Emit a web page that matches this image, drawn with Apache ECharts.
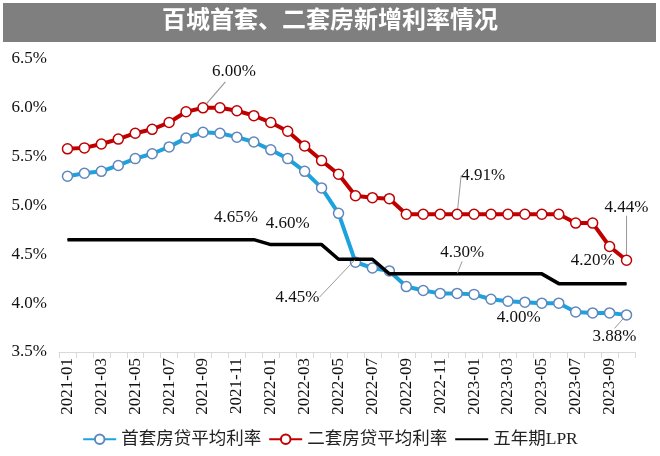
<!DOCTYPE html>
<html>
<head>
<meta charset="utf-8">
<script src="https://cdn.jsdelivr.net/npm/echarts@6/dist/echarts.min.js"></script>
<style>html,body{margin:0;padding:0;background:#fff}#c{width:660px;height:456px}</style>
</head>
<body>
<div id="c"></div>
<script>
const titleText = '百城首套、二套房新增利率情况';
const months = ['2021-01','2021-02','2021-03','2021-04','2021-05','2021-06','2021-07','2021-08','2021-09','2021-10','2021-11','2021-12',
  '2022-01','2022-02','2022-03','2022-04','2022-05','2022-06','2022-07','2022-08','2022-09','2022-10','2022-11','2022-12',
  '2023-01','2023-02','2023-03','2023-04','2023-05','2023-06','2023-07','2023-08','2023-09','2023-10'];
const seriesNames = ['首套房贷平均利率','二套房贷平均利率','五年期LPR'];
const firstHome = [5.30,5.33,5.35,5.41,5.48,5.53,5.60,5.69,5.75,5.74,5.70,5.65,
  5.57,5.48,5.35,5.18,4.92,4.42,4.36,4.33,4.17,4.13,4.10,4.10,
  4.09,4.04,4.02,4.01,4.00,4.00,3.91,3.90,3.90,3.88];
const secondHome = [5.58,5.59,5.63,5.68,5.74,5.78,5.85,5.96,6.00,6.00,5.97,5.92,
  5.85,5.76,5.61,5.46,5.32,5.10,5.08,5.07,4.91,4.91,4.91,4.91,
  4.91,4.91,4.91,4.91,4.91,4.91,4.82,4.82,4.58,4.44];
const lpr5y = [4.65,4.65,4.65,4.65,4.65,4.65,4.65,4.65,4.65,4.65,4.65,4.65,
  4.60,4.60,4.60,4.60,4.45,4.45,4.45,4.30,4.30,4.30,4.30,4.30,
  4.30,4.30,4.30,4.30,4.30,4.20,4.20,4.20,4.20,4.20];
const yMin = 3.5, yMax = 6.5, yStep = 0.5;

// annotation placement: [dataIndex, dx, dy, leader]
const annot = [
  [[28, -23, 14, false], [33, -12, 22, true]],
  [[8, 31, -36, 'manual'], [23, 26, -39, true], [33, 0, -53, true]],
  [[10, -1, -22, false], [13, 0, -21, false], [17, -58, 38, true], [23, 5, -21, true], [31, 0, -23, false]]
];
const seriesVals = [firstHome, secondHome, lpr5y];

const serif = '"Liberation Serif","Times New Roman",serif';
const legendFont = '"Liberation Serif","Noto Sans CJK SC",serif';
const leaderColor = '#999999';

function build(vals, sIdx) {
  const map = {};
  annot[sIdx].forEach(a => { map[a[0]] = a; });
  return vals.map((v, i) => {
    const a = map[i];
    if (!a) return v;
    return {
      value: v,
      label: {show: true},
      labelLine: {show: a[3] === true, length2: 0, minTurnAngle: 0, lineStyle: {color: leaderColor, width: 1}}
    };
  });
}
function layoutFn(sIdx) {
  return function (p) {
    const a = annot[sIdx].find(x => x[0] === p.dataIndex);
    return a ? {dx: a[1], dy: a[2]} : {};
  };
}
const labelBase = {
  show: false, position: 'inside', color: '#111', fontFamily: serif, fontSize: 17,
  formatter: p => Number(p.value).toFixed(2) + '%'
};

const chart = echarts.init(document.getElementById('c'), null, {renderer: 'canvas'});
chart.setOption({
  animation: false,
  backgroundColor: '#fff',
  graphic: [{id: 'bg', type: 'rect', shape: {x: 3, y: 3, width: 653, height: 39}, style: {fill: '#7f7f7f'}, z: -1}],
  title: {
    text: titleText, left: 'center', top: 7, padding: 0,
    textStyle: {color: '#fff', fontSize: 24, fontWeight: 'bold', fontFamily: '"Noto Sans CJK SC",sans-serif'}
  },
  grid: {left: 59, right: 25, top: 59, bottom: 104, containLabel: false},
  legend: {
    bottom: 3, left: 'center', itemWidth: 33, itemHeight: 12, itemGap: 7,
    textStyle: {fontFamily: legendFont, fontSize: 17.5, color: '#222'},
    data: [seriesNames[0], seriesNames[1], {name: seriesNames[2], itemStyle: {opacity: 0}}]
  },
  xAxis: {
    type: 'category', data: months, boundaryGap: true,
    axisLine: {lineStyle: {color: '#d9d9d9', width: 1}},
    axisTick: {show: true, interval: 0, length: 6, lineStyle: {color: '#d9d9d9'}},
    axisLabel: {interval: 1, rotate: 90, fontFamily: serif, fontSize: 17, color: '#111', margin: 6}
  },
  yAxis: {
    type: 'value', min: yMin, max: yMax, interval: yStep,
    axisLine: {show: false}, axisTick: {show: false}, splitLine: {show: false},
    axisLabel: {formatter: v => v.toFixed(1) + '%', fontFamily: serif, fontSize: 17, color: '#111', margin: 12}
  },
  series: [
    {
      name: seriesNames[0], type: 'line', data: build(firstHome, 0),
      symbol: 'circle', symbolSize: 10, showSymbol: true,
      lineStyle: {color: '#1ca3de', width: 4},
      itemStyle: {color: '#fff', borderColor: '#5f86bd', borderWidth: 1.5},
      label: labelBase, labelLayout: layoutFn(0), z: 3
    },
    {
      name: seriesNames[1], type: 'line', data: build(secondHome, 1),
      symbol: 'circle', symbolSize: 10, showSymbol: true,
      lineStyle: {color: '#c00000', width: 4},
      itemStyle: {color: '#fff', borderColor: '#c00000', borderWidth: 1.5},
      label: labelBase, labelLayout: layoutFn(1), z: 3
    },
    {
      name: seriesNames[2], type: 'line', data: build(lpr5y, 2),
      symbol: 'circle', symbolSize: 1, showSymbol: true,
      lineStyle: {color: '#000', width: 3.5},
      itemStyle: {color: '#000'},
      label: labelBase, labelLayout: layoutFn(2), z: 4
    }
  ]
});

// leader for the peak label, anchored at the data point through the library's scales
const extra = [{id: 'bg', type: 'rect', shape: {x: 3, y: 3, width: 653, height: 39}, style: {fill: '#7f7f7f'}, z: -1}];
annot.forEach((list, s) => list.forEach(a => {
  if (a[3] !== 'manual') return;
  const p = chart.convertToPixel({seriesIndex: s}, [a[0], seriesVals[s][a[0]]]);
  const t1 = 5.5 / Math.hypot(a[1], a[2]);
  const t2 = (Math.abs(a[2]) - 10) / Math.abs(a[2]);
  extra.push({
    id: 'lead_' + s + '_' + a[0], type: 'line', z: 100,
    shape: {x1: p[0] + a[1] * t1, y1: p[1] + a[2] * t1, x2: p[0] + a[1] * t2, y2: p[1] + a[2] * t2},
    style: {stroke: leaderColor, lineWidth: 1.2}
  });
}));
chart.setOption({graphic: extra});
</script>
</body>
</html>
